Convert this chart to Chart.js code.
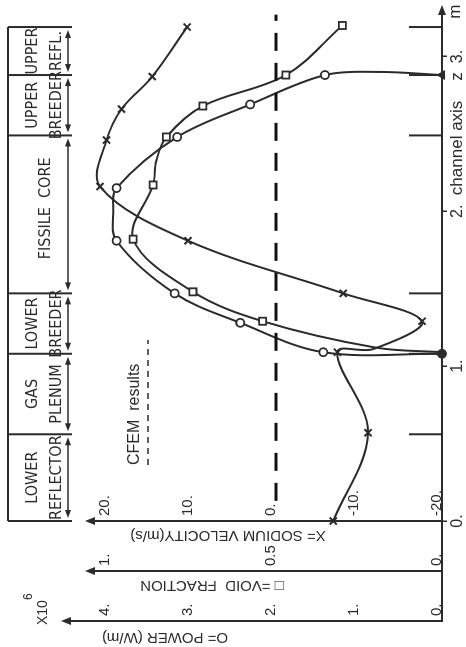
<!DOCTYPE html>
<html>
<head>
<meta charset="utf-8">
<script src="https://cdn.jsdelivr.net/npm/chart.js@4.4.1/dist/chart.umd.min.js"></script>
<style>
  html, body { margin: 0; padding: 0; background: #fff; }
  body { width: 466px; height: 647px; overflow: hidden; position: relative; }
  /* the figure is printed sideways: draw it upright, then turn it a quarter left */
  #wrap { position: absolute; left: 0; top: 0; width: 647px; height: 466px;
          transform-origin: 0 0; transform: translate(0, 647px) rotate(-90deg); }
</style>
</head>
<body>
<div id="wrap"><canvas id="myChart" width="647" height="466"></canvas></div>
<script>
// channel zones (z in m)
const zBounds = [0, 0.56, 1.08, 1.47, 2.49, 2.88, 3.19];
const zoneLine1 = ["LOWER", "GAS", "LOWER", "FISSILE  CORE", "UPPER", "UPPER"];
const zoneLine2 = ["REFLECTOR", "PLENUM", "BREEDER", "", "BREEDER", "REFL."];

// tick values
const zTicks = [0, 1, 2, 3];
const velocityTicks = [-20, -10, 0, 10, 20];
const voidTicks = [0, 0.5, 1];
const powerTicks = [0, 1, 2, 3, 4];

// X = sodium velocity (m/s)
const zVelocity = [0, 0.57, 1.09, 1.11, 1.29, 1.47, 1.81, 2.16, 2.46, 2.66, 2.87, 3.19];
const velocity = [-6.9, -11.1, -7.4, -11.7, -17.6, -8.1, 10.6, 21.2, 20.4, 18.6, 14.9, 10.7];
const velocityMarked = [1, 1, 1, 0, 1, 1, 1, 1, 1, 1, 1, 1];

// square = void fraction
const zVoid = [1.09, 1.12, 1.29, 1.48, 1.82, 2.17, 2.33, 2.48, 2.68, 2.88, 3.20];
const voidFrac = [0, 0.20, 0.54, 0.75, 0.93, 0.87, 0.86, 0.83, 0.72, 0.47, 0.30];
const voidMarked = [0, 0, 1, 1, 1, 1, 0, 1, 1, 1, 1];

// circle = power (x10^6 W/m)
const zPower = [1.08, 1.09, 1.28, 1.47, 1.81, 2.01, 2.15, 2.48, 2.69, 2.88, 2.90, 2.88];
const power = [0, 1.43, 2.43, 3.22, 3.92, 3.96, 3.92, 3.19, 2.31, 1.41, 0.75, 0];
const powerMarked = [1, 1, 1, 1, 1, 0, 1, 1, 1, 1, 0, 1];

// zero velocity reference line
const zZero = [0.13, 3.27];
const zeroLine = [0, 0];

const ink = "#2b2b2b";
const sans = "'Liberation Sans', 'DejaVu Sans', sans-serif";
const narrow = "'Liberation Sans Narrow', 'DejaVu Sans Condensed', sans-serif";
const headroom = 1.063;

const pts = (xs, ys) => xs.map((x, i) => ({ x, y: ys[i] }));
const fmt = v => Number.isInteger(v) ? v + "." : String(v);

function arrowHead(ctx, x, y, dir, len, half) {
  ctx.beginPath();
  ctx.moveTo(x, y);
  if (dir === "up") { ctx.lineTo(x - half, y + len); ctx.lineTo(x + half, y + len); }
  else if (dir === "right") { ctx.lineTo(x - len, y - half); ctx.lineTo(x - len, y + half); }
  else { ctx.lineTo(x + len, y - half); ctx.lineTo(x + len, y + half); }
  ctx.closePath();
  ctx.fill();
}

function upText(ctx, text, x, y, font) {
  ctx.save();
  ctx.translate(x, y);
  ctx.rotate(-Math.PI / 2);
  ctx.font = font;
  ctx.textAlign = "center";
  ctx.textBaseline = "middle";
  ctx.fillText(text, 0, 0);
  ctx.restore();
}

const annotations = {
  id: "annotations",
  afterDraw(chart) {
    const { ctx, chartArea: area, scales } = chart;
    const zx = v => scales.x.getPixelForValue(v);
    ctx.save();
    ctx.strokeStyle = ink;
    ctx.fillStyle = ink;
    ctx.lineWidth = 2;

    // z axis runs on down to the power axis, arrow at the top end
    ctx.beginPath();
    ctx.moveTo(scales.yp.right, area.bottom);
    ctx.lineTo(area.right, area.bottom);
    ctx.stroke();
    arrowHead(ctx, area.right + 5, area.bottom, "right", 10, 4);

    // arrows on the value axes
    arrowHead(ctx, scales.yv.right, area.top - 4, "up", 10, 4);
    arrowHead(ctx, scales.yf.right, area.top - 4, "up", 10, 4);
    ctx.beginPath();
    ctx.moveTo(scales.yp.right, area.top);
    ctx.lineTo(scales.yp.right, area.top - 22);
    ctx.stroke();
    arrowHead(ctx, scales.yp.right, area.top - 28, "up", 10, 4);

    // zone marks on the z axis
    zBounds.slice(1).forEach(b => {
      ctx.beginPath();
      ctx.moveTo(zx(b), area.bottom - 33);
      ctx.lineTo(zx(b), area.bottom);
      ctx.stroke();
    });

    // zone strip along the top
    const boxTop = 8, boxBottom = 72, arrowY = 68;
    ctx.beginPath();
    ctx.moveTo(zx(zBounds[0]), boxTop);
    ctx.lineTo(zx(zBounds[zBounds.length - 1]), boxTop);
    zBounds.forEach(b => {
      ctx.moveTo(zx(b), boxTop);
      ctx.lineTo(zx(b), boxBottom);
    });
    ctx.stroke();

    ctx.lineWidth = 1.6;
    for (let i = 0; i < zBounds.length - 1; i++) {
      const a = zx(zBounds[i]) + 3, b = zx(zBounds[i + 1]) - 3;
      ctx.beginPath();
      ctx.moveTo(a + 4, arrowY);
      ctx.lineTo(b - 4, arrowY);
      ctx.stroke();
      arrowHead(ctx, a, arrowY, "left", 8, 3);
      arrowHead(ctx, b, arrowY, "right", 8, 3);

      const mid = (zx(zBounds[i]) + zx(zBounds[i + 1])) / 2;
      ctx.font = "16px " + narrow;
      ctx.textAlign = "center";
      ctx.textBaseline = "middle";
      if (zoneLine2[i]) {
        ctx.fillText(zoneLine1[i], mid, 33);
        ctx.fillText(zoneLine2[i], mid, 57);
      } else {
        ctx.fillText(zoneLine1[i], mid + 6, 46);
      }
    }

    // axis titles
    upText(ctx, "X= SODIUM VELOCITY(m/s)", scales.yv.right - 14, 228, "15px " + sans);
    upText(ctx, "\u25A1 =VOID  FRACTION", scales.yf.right - 14, 212, "15px " + sans);
    upText(ctx, "O= POWER (W/m)", scales.yp.right - 16, 165, "15px " + sans);

    ctx.textAlign = "left";
    ctx.textBaseline = "middle";
    ctx.font = "14px " + sans;
    ctx.fillText("X10", 22, 43);
    ctx.font = "12px " + sans;
    ctx.fillText("6", 47, 29);

    // legend
    ctx.font = "16px " + sans;
    ctx.fillText("CFEM  results", 182, 135);
    ctx.lineWidth = 1.5;
    ctx.setLineDash([6, 5]);
    ctx.beginPath();
    ctx.moveTo(182, 148);
    ctx.lineTo(307, 148);
    ctx.stroke();
    ctx.setLineDash([]);

    // z axis name
    ctx.font = "17px " + sans;
    ctx.textAlign = "center";
    ctx.fillText("channel axis", (zx(2) + zx(3)) / 2 - 14, 457);
    ctx.fillText("z", zx(2.87), 457);
    ctx.fillText("m", zx(3.29), 455);
    ctx.restore();
  }
};

function valueAxis(min, max, tickList, weight, width) {
  return {
    type: "linear",
    position: "left",
    min, max, weight,
    afterFit: s => { s.width = width; },
    afterBuildTicks: s => { s.ticks = tickList.map(v => ({ value: v })); },
    grid: { drawOnChartArea: false, drawTicks: false },
    border: { display: true, color: ink, width: 2 },
    ticks: { mirror: true, padding: 5, labelOffset: -5, color: ink, font: { family: sans, size: 15 }, callback: fmt }
  };
}

const ctx = document.getElementById("myChart").getContext("2d");

new Chart(ctx, {
  type: "line",
  data: {
    datasets: [
      {
        data: pts(zZero, zeroLine),
        yAxisID: "yv",
        borderColor: "#111",
        borderWidth: 3,
        borderDash: [18, 12],
        pointRadius: 0,
        tension: 0
      },
      {
        data: pts(zVelocity, velocity),
        yAxisID: "yv",
        borderColor: ink,
        borderWidth: 2,
        tension: 0.35,
        pointStyle: "crossRot",
        pointRadius: velocityMarked.map(m => m ? 5 : 0),
        pointBorderColor: ink,
        pointBorderWidth: 2
      },
      {
        data: pts(zVoid, voidFrac),
        yAxisID: "yf",
        borderColor: ink,
        borderWidth: 2,
        tension: 0.35,
        pointStyle: "rect",
        pointRadius: voidMarked.map(m => m ? 5 : 0),
        pointBackgroundColor: "#fff",
        pointBorderColor: ink,
        pointBorderWidth: 1.8
      },
      {
        data: pts(zPower, power),
        yAxisID: "yp",
        borderColor: ink,
        borderWidth: 2,
        tension: 0.35,
        pointStyle: power.map((v, i) => i === power.length - 1 ? "triangle" : "circle"),
        pointRadius: powerMarked.map(m => m ? 4 : 0),
        pointBackgroundColor: power.map(v => v === 0 ? ink : "#fff"),
        pointBorderColor: ink,
        pointBorderWidth: 1.8
      }
    ]
  },
  options: {
    responsive: false,
    animation: false,
    clip: false,
    layout: { padding: { top: 89, right: 10, left: 0, bottom: 0 } },
    plugins: { legend: { display: false }, tooltip: { enabled: false } },
    scales: {
      x: {
        type: "linear",
        min: 0,
        max: 3.3,
        afterFit: s => { s.height = 24; },
        afterBuildTicks: s => { s.ticks = zTicks.map(v => ({ value: v })); },
        grid: { drawOnChartArea: false, tickLength: 5, color: ink, lineWidth: 1.5 },
        border: { display: true, color: ink, width: 2 },
        ticks: { color: ink, font: { family: sans, size: 16 }, padding: 1, maxRotation: 0, callback: fmt }
      },
      yv: valueAxis(-20, -20 + 40 * headroom, velocityTicks, 0, 50),
      yf: valueAxis(0, headroom, voidTicks, 1, 50),
      yp: valueAxis(0, 4 * headroom, powerTicks, 2, 26)
    }
  },
  plugins: [annotations]
});
</script>
</body>
</html>
